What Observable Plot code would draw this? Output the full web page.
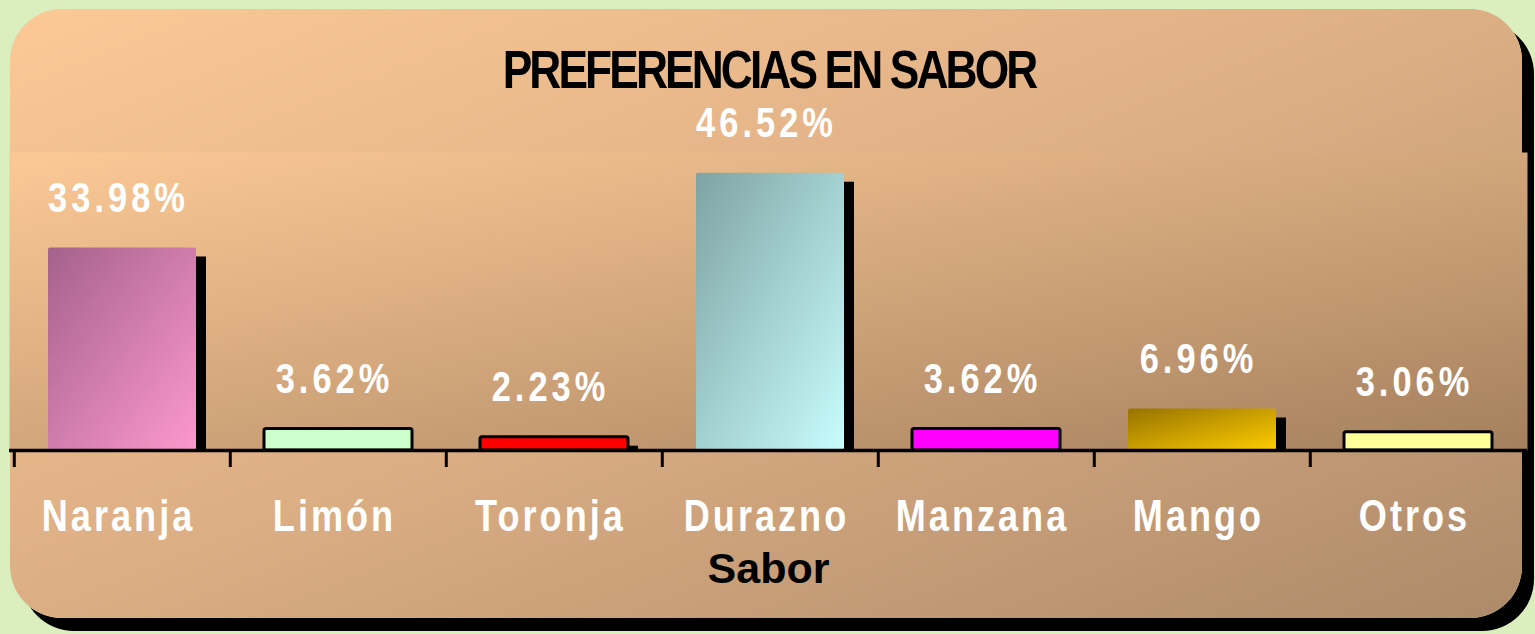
<!DOCTYPE html>
<html>
<head>
<meta charset="utf-8">
<script src="https://cdn.jsdelivr.net/npm/d3@7"></script>
<script src="https://cdn.jsdelivr.net/npm/@observablehq/plot@0.6"></script>
<style>
  html, body { margin: 0; padding: 0; background: #daefbd; }
  #stage { position: relative; width: 1535px; height: 634px; overflow: hidden; }
  #card {
    position: absolute; left: 10px; top: 9px; width: 1512px; height: 609px;
    border-radius: 52px;
    background: linear-gradient(to bottom right, #fcc996 0%, #dcae84 50%, #ad8a69 100%);
    box-shadow: 12px 13px 0 #000;
  }
  #chart { position: absolute; left: 0; top: 0; }
  #title {
    position: absolute; left: 0; top: 42px; width: 1538px; text-align: center;
    font-family: "Liberation Sans Narrow", "Arial Narrow", "Liberation Sans", Arial, sans-serif;
    font-weight: bold; font-size: 54px; line-height: 54px; letter-spacing: -3.5px;
    color: #000; margin: 0;
    transform: scaleX(0.82); transform-origin: 769px 0;
  }
  .vals text { letter-spacing: 4.9px; }
  .cats text { letter-spacing: 3.7px; }
</style>
</head>
<body>
<div id="stage">
  <div id="card"></div>
  <div id="chart"></div>
  <h1 id="title">PREFERENCIAS EN SABOR</h1>
</div>
<script>
// ---- data ----
const categories = ["Naranja", "Limón", "Toronja", "Durazno", "Manzana", "Mango", "Otros"];
const percentages = [33.98, 3.62, 2.23, 46.52, 3.62, 6.96, 3.06];
const valueLabels = ["33.98%", "3.62%", "2.23%", "46.52%", "3.62%", "6.96%", "3.06%"];
const titleText = "PREFERENCIAS EN SABOR";
const axisTitle = "Sabor";

// ---- styles ----
const barFills = ["url(#g-naranja)", "#ccffcc", "#ff0000", "url(#g-durazno)", "#ff00ff", "url(#g-mango)", "#ffff99"];
const barStrokes = ["none", "#000", "#000", "none", "#000", "none", "#000"];
const shadowed = ["Naranja", "Toronja", "Durazno", "Mango"];
const bold = "'Liberation Sans', Arial, sans-serif";
const squeeze = 0.82; // horizontal condensing of the label glyphs

const rows = categories.map((c, i) => ({category: c, value: percentages[i], label: valueLabels[i], fill: barFills[i], stroke: barStrokes[i]}));

function gradientDefs() {
  const defs = d3.create("svg:defs");
  const add = (id, stops) => {
    const g = defs.append("linearGradient").attr("id", id)
      .attr("x1", 0).attr("y1", 0).attr("x2", 1).attr("y2", 1);
    stops.forEach(([o, c]) => g.append("stop").attr("offset", o).attr("stop-color", c));
  };
  add("panel", [[0, "#fcc996"], [0.5, "#d2a67b"], [1, "#a4805e"]]);
  add("g-naranja", [[0, "#a4628a"], [1, "#fd98cc"]]);
  add("g-durazno", [[0, "#7fa3a4"], [1, "#c8fdfd"]]);
  add("g-mango", [[0, "#967300"], [1, "#ffcc00"]]);
  return defs.node();
}

const W = 1535, H = 634;
const xRange = [12, 1527];
const step = (xRange[1] - xRange[0]) / categories.length;

const chart = Plot.plot({
  width: W,
  height: H,
  marginLeft: 9,
  marginRight: 8,
  marginTop: 152,
  marginBottom: 184,
  style: {background: "transparent", overflow: "visible"},
  x: {type: "band", domain: categories, range: xRange, padding: 0},
  y: {domain: [0, 50], axis: null},
  color: {type: "identity"},
  marks: [
    gradientDefs,
    Plot.frame({fill: "url(#panel)", stroke: "none"}),
    Plot.barY(rows.filter(d => shadowed.includes(d.category)), {
      x: "category", y: "value", fill: "#000", dx: 10, insetTop: 9, insetLeft: 34, insetRight: 34
    }),
    Plot.barY(rows, {
      x: "category", y: "value", fill: "fill", stroke: "stroke", strokeWidth: 3,
      rx: 2, insetLeft: 34, insetRight: 34
    }),
    Plot.ruleY([0], {stroke: "#000", strokeWidth: 3.5}),
    Plot.axisX({
      ticks: categories, tickSize: 17, strokeWidth: 3, tickFormat: () => "",
      label: null, dx: -step / 2, stroke: "#000"
    }),
    Plot.text(rows, {
      x: "category", y: "value", text: "label", lineAnchor: "bottom", dy: -36, dx: -4,
      fill: "white", fontSize: 42, fontWeight: "bold", fontFamily: bold, className: "vals"
    }),
    Plot.text(categories, {
      x: d => d, frameAnchor: "bottom", dy: 80, lineAnchor: "bottom", dx: -4,
      fill: "white", fontSize: 44, fontWeight: "bold", fontFamily: bold, className: "cats"
    }),
    Plot.text([axisTitle], {
      frameAnchor: "bottom", dy: 132, lineAnchor: "bottom",
      fill: "#000", fontSize: 43, fontWeight: "bold", fontFamily: bold
    })
  ]
});

// condense the white label glyphs horizontally around their anchor
d3.select(chart).selectAll(".vals text, .cats text").each(function() {
  const t = this.getAttribute("transform") || "";
  const x = +(this.getAttribute("x") || 0), y = +(this.getAttribute("y") || 0);
  this.setAttribute("transform", `${t} translate(${x},${y}) scale(${squeeze},1)`);
  this.removeAttribute("x");
  this.removeAttribute("y");
});

document.getElementById("chart").appendChild(chart);
document.getElementById("title").textContent = titleText;
</script>
</body>
</html>
